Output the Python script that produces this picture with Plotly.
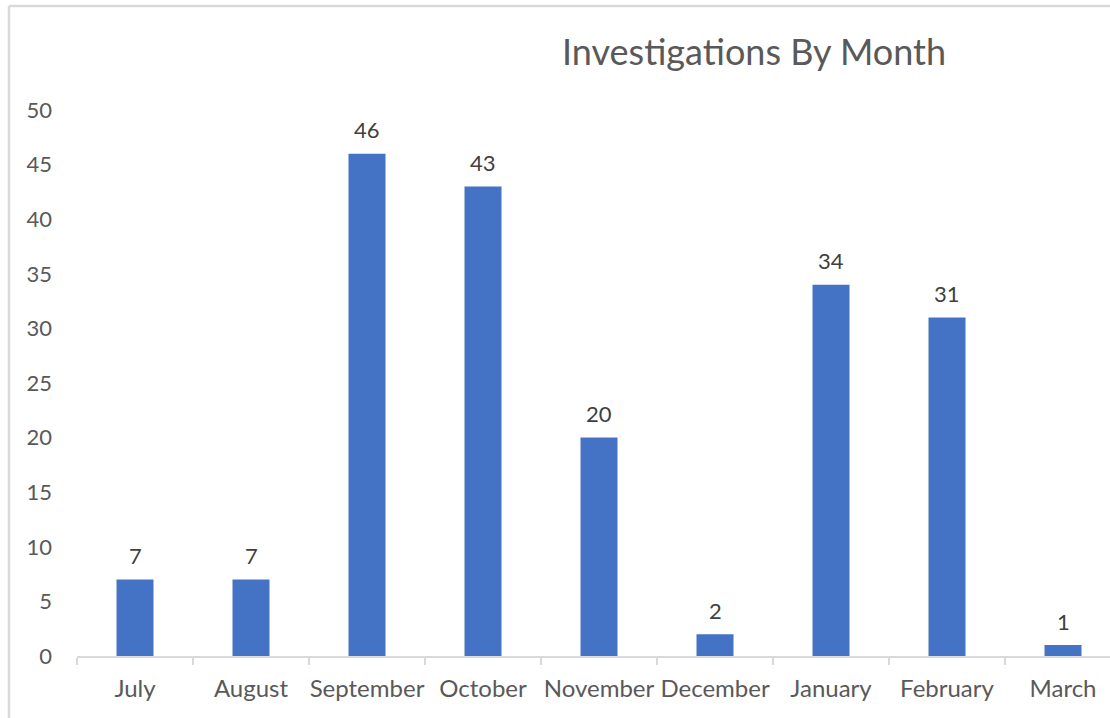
import plotly.graph_objects as go

months = ["July", "August", "September", "October", "November", "December",
          "January", "February", "March"]
investigations = [7, 7, 46, 43, 20, 2, 34, 31, 1]
y_ticks = [0, 5, 10, 15, 20, 25, 30, 35, 40, 45, 50]
title_text = "Investigations By Month"

W, H = 1110, 718
ML, MR, MT, MB = 77, 0, 110, 62
PW, PH = W - ML - MR, H - MT - MB
CAT_PX = 116.0
n_vis = PW / CAT_PX

FONT = "Lato, Carlito, 'Open Sans', sans-serif"
BAR_COLOR = "#4472C4"
GRAY_TXT = "#595959"
LINE = "#D9D9D9"

fig = go.Figure()
fig.add_trace(go.Bar(
    x=months, y=investigations,
    marker=dict(color=BAR_COLOR, line=dict(width=0)),
    hoverinfo="x+y",
))

for m, v in zip(months, investigations):
    fig.add_annotation(x=m, y=v, text=str(v), showarrow=False,
                       yanchor="middle", yshift=24,
                       font=dict(family=FONT, size=22, color="#404040"))

# chart border (top and left visible, rest cropped)
def px_to_paper_x(px):
    return (px - ML) / PW

def px_to_paper_y(py):
    return (H - MB - py) / PH

fig.add_shape(type="line", xref="paper", yref="paper",
              x0=px_to_paper_x(9), x1=px_to_paper_x(W + 5),
              y0=px_to_paper_y(6), y1=px_to_paper_y(6),
              line=dict(color=LINE, width=2.5))
fig.add_shape(type="line", xref="paper", yref="paper",
              x0=px_to_paper_x(9), x1=px_to_paper_x(9),
              y0=px_to_paper_y(6), y1=px_to_paper_y(H + 5),
              line=dict(color=LINE, width=2.5))

fig.update_layout(
    width=W, height=H,
    margin=dict(l=ML, r=MR, t=MT, b=MB, pad=0, autoexpand=False),
    paper_bgcolor="white", plot_bgcolor="white",
    bargap=1 - 37 / CAT_PX,
    showlegend=False,
    title=dict(text=title_text, xref="container", x=754 / W,
               xanchor="center", yref="container", y=1 - 52 / H,
               yanchor="middle", automargin=False,
               font=dict(family=FONT, size=36, color=GRAY_TXT)),
    xaxis=dict(
        type="category", range=[-0.5, -0.5 + n_vis],
        showline=True, linecolor=LINE, linewidth=1.5,
        ticks="outside", tickson="boundaries", ticklen=7,
        tickcolor=LINE, tickwidth=1.5,
        showgrid=False, zeroline=False, automargin=False,
        tickangle=0,
        tickfont=dict(family=FONT, size=24, color=GRAY_TXT),
        ticklabelstandoff=10,
    ),
    yaxis=dict(
        range=[0, 50], tickvals=y_ticks,
        showline=False, showgrid=False, zeroline=False, automargin=False,
        ticks="", ticklabelstandoff=24,
        tickfont=dict(family=FONT, size=22, color=GRAY_TXT),
    ),
)

fig.write_html(
    "out.html",
    config={"displayModeBar": False},
    post_script="document.body.style.margin='0';document.body.style.overflow='hidden';",
)
